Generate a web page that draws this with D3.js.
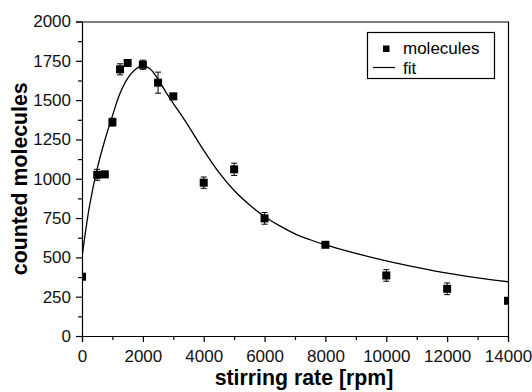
<!DOCTYPE html>
<html>
<head>
<meta charset="utf-8">
<script src="https://cdn.jsdelivr.net/npm/d3@7/dist/d3.min.js"></script>
<style>
  html, body { margin: 0; padding: 0; background: #fff; }
  svg { display: block; font-family: "Liberation Sans", Arial, Helvetica, sans-serif; }
</style>
</head>
<body>
<svg id="chart" width="532" height="392"></svg>
<script>
// Measured counts vs. stirring rate (rpm), with error bars
const rates     = [0, 500, 750, 1000, 1250, 1500, 2000, 2500, 3000, 4000, 5000, 6000, 8000, 10000, 12000, 14000];
const molecules = [377, 1025, 1028, 1360, 1696, 1736, 1725, 1611, 1524, 975, 1060, 748, 580, 385, 300, 224];
const errors    = [12, 35, 12, 25, 35, 12, 29, 67, 12, 36, 39, 37, 12, 37, 37, 12];

// Fitted curve, sampled
const fitRates  = [0, 250, 500, 750, 1000, 1250, 1500, 1750, 2000, 2250, 2500, 2750, 3000, 3500, 4000, 4500, 5000, 5500, 6000, 6500, 7000, 7500, 8000, 9000, 10000, 11000, 12000, 13000, 14000];
const fitValues = [500, 830, 1065, 1245, 1400, 1543, 1638, 1695, 1720, 1697, 1632, 1553, 1480, 1335, 1180, 1040, 925, 835, 760, 700, 650, 612, 579, 525, 478, 437, 400, 370, 345];

// Axis ticks
const xTicks = [0, 2000, 4000, 6000, 8000, 10000, 12000, 14000];
const yTicks = [0, 250, 500, 750, 1000, 1250, 1500, 1750, 2000];
const xMinor = [1000, 3000, 5000, 7000, 9000, 11000, 13000];
const yMinor = [125, 375, 625, 875, 1125, 1375, 1625, 1875];

const svg = d3.select("#chart");
const plotLeft = 82, plotRight = 508, plotTop = 21.5, plotBottom = 336;

const x = d3.scaleLinear().domain([0, 14000]).range([plotLeft, plotRight]);
const y = d3.scaleLinear().domain([0, 2000]).range([plotBottom, plotTop]);

svg.append("defs").append("clipPath").attr("id", "plotclip")
  .append("rect").attr("x", plotLeft).attr("y", plotTop)
  .attr("width", plotRight - plotLeft).attr("height", plotBottom - plotTop);

// Frame (top and right)
svg.append("path")
  .attr("d", `M${plotLeft},${plotTop + 0.5}H${plotRight + 0.5}V${plotBottom}`)
  .attr("fill", "none").attr("stroke", "#000").attr("stroke-width", 1.2);

// Axes
const fontSize = 17;
const titleSize = 21.3;
svg.append("g").attr("transform", `translate(0,${plotBottom})`)
  .call(d3.axisBottom(x).tickValues(xTicks).tickSize(6).tickPadding(8).tickFormat(d3.format("d")));
svg.append("g").attr("transform", `translate(${plotLeft},0)`)
  .call(d3.axisLeft(y).tickValues(yTicks).tickSize(6).tickPadding(5).tickFormat(d3.format("d")));
svg.append("g").attr("transform", `translate(0,${plotBottom})`)
  .call(d3.axisBottom(x).tickValues(xMinor).tickSize(4).tickFormat(""))
  .select(".domain").remove();
svg.append("g").attr("transform", `translate(${plotLeft},0)`)
  .call(d3.axisLeft(y).tickValues(yMinor).tickSize(4).tickFormat(""))
  .select(".domain").remove();

svg.selectAll(".tick text")
  .attr("font-size", fontSize).attr("font-family", "Liberation Sans, Arial, sans-serif").attr("fill", "#111");
svg.selectAll(".domain, .tick line").attr("stroke", "#000").attr("stroke-width", 1.2);

// Axis titles
svg.append("text")
  .attr("x", 304).attr("y", 384.5)
  .attr("text-anchor", "middle").attr("font-size", titleSize).attr("font-weight", "bold")
  .text("stirring rate [rpm]");
svg.append("text")
  .attr("transform", `translate(26.8,${(plotTop + plotBottom) / 2}) rotate(-90)`)
  .attr("text-anchor", "middle").attr("font-size", titleSize).attr("font-weight", "bold")
  .text("counted molecules");

const plot = svg.append("g").attr("clip-path", "url(#plotclip)");

// Fit curve
const fitData = fitRates.map((r, i) => [r, fitValues[i]]);
plot.append("path")
  .datum(fitData)
  .attr("fill", "none").attr("stroke", "#000").attr("stroke-width", 1.3)
  .attr("d", d3.line().x(d => x(d[0])).y(d => y(d[1])).curve(d3.curveCatmullRom.alpha(0.5)));

// Error bars and markers
const pts = rates.map((r, i) => ({ r, v: molecules[i], e: errors[i] }));
const eb = plot.append("g").attr("stroke", "#000").attr("stroke-width", 1);
pts.forEach(p => {
  const cx = x(p.r), y0 = y(p.v - p.e), y1 = y(p.v + p.e);
  eb.append("line").attr("x1", cx).attr("x2", cx).attr("y1", y0).attr("y2", y1);
  eb.append("line").attr("x1", cx - 3).attr("x2", cx + 3).attr("y1", y0).attr("y2", y0);
  eb.append("line").attr("x1", cx - 3).attr("x2", cx + 3).attr("y1", y1).attr("y2", y1);
});
const sq = 8;
plot.selectAll("rect.pt").data(pts).join("rect")
  .attr("class", "pt")
  .attr("x", d => x(d.r) - sq / 2).attr("y", d => y(d.v) - sq / 2)
  .attr("width", sq).attr("height", sq).attr("fill", "#000");

// Legend
const lg = svg.append("g");
lg.append("rect").attr("x", 367.5).attr("y", 32.5).attr("width", 127).attr("height", 46)
  .attr("fill", "#fff").attr("stroke", "#000").attr("stroke-width", 1.2);
lg.append("rect").attr("x", 383).attr("y", 45.5).attr("width", 6.5).attr("height", 6.5).attr("fill", "#000");
lg.append("text").attr("x", 403).attr("y", 53.5).attr("font-size", fontSize).text("molecules");
lg.append("line").attr("x1", 373).attr("x2", 395).attr("y1", 67.5).attr("y2", 67.5)
  .attr("stroke", "#000").attr("stroke-width", 1.2);
lg.append("text").attr("x", 403).attr("y", 73.5).attr("font-size", fontSize).text("fit");
</script>
</body>
</html>
